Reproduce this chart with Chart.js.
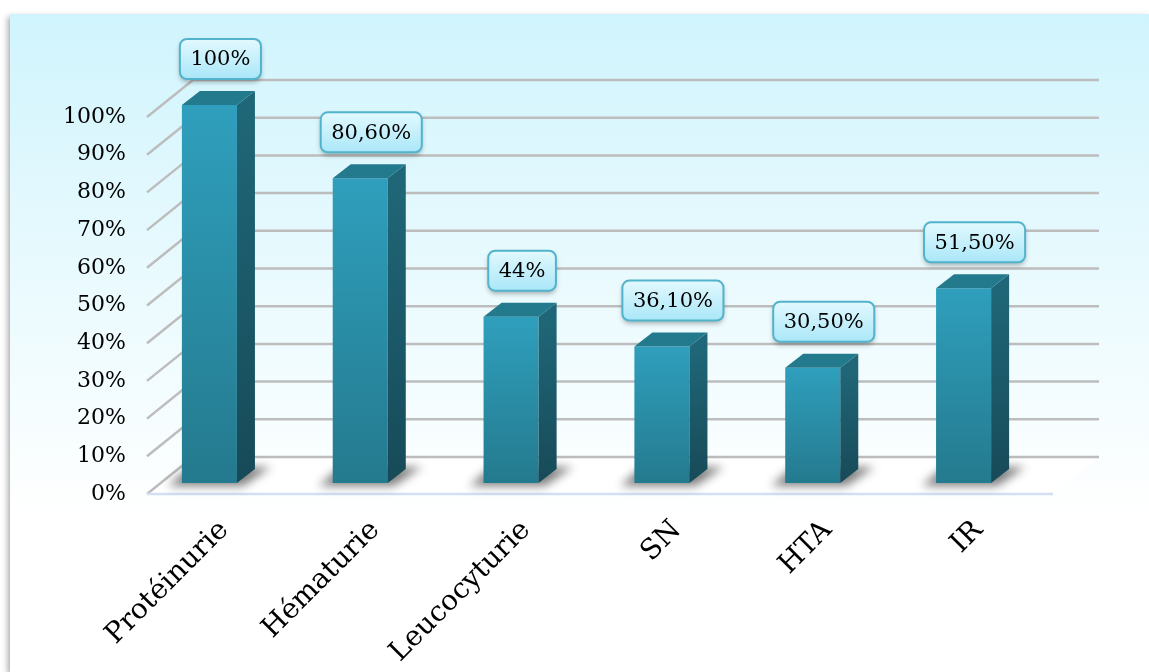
<!DOCTYPE html>
<html>
<head>
<meta charset="utf-8">
<script src="https://cdn.jsdelivr.net/npm/chart.js@4/dist/chart.umd.min.js"></script>
<style>
  html, body { margin: 0; padding: 0; background: #fff; }
  #wrap { width: 1149px; height: 672px; }
</style>
</head>
<body>
<div id="wrap"><canvas id="chart"></canvas></div>
<script>
// values
const categories = ['Protéinurie', 'Hématurie', 'Leucocyturie', 'SN', 'HTA', 'IR'];
const percents = [100, 80.6, 44, 36.1, 30.5, 51.5];
const valueLabels = ['100%', '80,60%', '44%', '36,10%', '30,50%', '51,50%'];
const tickValues = [0, 10, 20, 30, 40, 50, 60, 70, 80, 90, 100];

const SERIF = '"DejaVu Serif", serif';

// fake 3d: depth of the whole plot and of one bar
const wallDx = 46, wallDy = -37;
const barDx = 18, barDy = -14;

function barBoxes(chart) {
  return chart.getDatasetMeta(0).data.map(b => b.getProps(['x', 'y', 'base', 'width'], true));
}

const scene3d = {
  id: 'scene3d',
  beforeDraw(chart) {
    const c = chart.ctx;
    c.save();
    c.fillStyle = '#fff';
    c.fillRect(0, 0, chart.width, chart.height);
    const g = c.createLinearGradient(0, 14, 0, 520);
    g.addColorStop(0, '#d0f4fd');
    g.addColorStop(0.6, '#edfbfe');
    g.addColorStop(1, '#ffffff');
    c.shadowColor = 'rgba(0,0,0,0.35)';
    c.shadowBlur = 6;
    c.shadowOffsetX = -2;
    c.shadowOffsetY = 3;
    c.fillStyle = g;
    c.fillRect(10, 14, chart.width - 10, chart.height - 14);
    c.restore();
  },
  beforeDatasetsDraw(chart) {
    const c = chart.ctx;
    const a = chart.chartArea;
    const y = chart.scales.y;
    const x0 = a.left + 13, x1 = a.right + 14;
    const floorY = y.getPixelForValue(0);
    c.save();
    // floor
    c.fillStyle = '#ffffff';
    c.beginPath();
    c.moveTo(x0, floorY);
    c.lineTo(x0 + wallDx, floorY + wallDy);
    c.lineTo(x1 + wallDx, floorY + wallDy);
    c.lineTo(x1, floorY);
    c.closePath();
    c.fill();
    // back wall lines + short side lines
    c.strokeStyle = '#bdbdbd';
    c.lineWidth = 2.5;
    tickValues.forEach(v => {
      const py = y.getPixelForValue(v);
      c.beginPath();
      c.moveTo(x0, py);
      c.lineTo(x0 + wallDx, py + wallDy);
      c.lineTo(x1 + wallDx, py + wallDy);
      c.stroke();
    });
    // front edge of the floor
    c.strokeStyle = '#d3e0f1';
    c.lineWidth = 2.5;
    c.beginPath();
    c.moveTo(x0, floorY);
    c.lineTo(x1, floorY);
    c.stroke();
    // soft shadows under the bars
    c.filter = 'blur(5px)';
    c.fillStyle = 'rgba(0,0,0,0.5)';
    barBoxes(chart).forEach(b => {
      const l = b.x - b.width / 2, r = b.x + b.width / 2;
      c.beginPath();
      c.moveTo(l - 14, b.base + 3);
      c.lineTo(r + 6, b.base + 3);
      c.lineTo(r + 34, b.base - 16);
      c.lineTo(l + 8, b.base - 16);
      c.closePath();
      c.fill();
    });
    c.restore();
  },
  afterDatasetsDraw(chart) {
    const c = chart.ctx;
    c.save();
    barBoxes(chart).forEach(b => {
      const l = b.x - b.width / 2, r = b.x + b.width / 2;
      // side face
      const gs = c.createLinearGradient(0, b.y, 0, b.base);
      gs.addColorStop(0, '#1f6778');
      gs.addColorStop(1, '#174a58');
      c.fillStyle = gs;
      c.beginPath();
      c.moveTo(r, b.y);
      c.lineTo(r + barDx, b.y + barDy);
      c.lineTo(r + barDx, b.base + barDy);
      c.lineTo(r, b.base);
      c.closePath();
      c.fill();
      // top face
      c.fillStyle = '#237a8d';
      c.beginPath();
      c.moveTo(l, b.y);
      c.lineTo(l + barDx, b.y + barDy);
      c.lineTo(r + barDx, b.y + barDy);
      c.lineTo(r, b.y);
      c.closePath();
      c.fill();
    });
    // value callouts
    c.font = '21px ' + SERIF;
    c.textAlign = 'center';
    c.textBaseline = 'middle';
    barBoxes(chart).forEach((b, i) => {
      const txt = valueLabels[i];
      const w = c.measureText(txt).width + 21, h = 40;
      const cx = b.x + 11, bottom = b.y - 26;
      const bx = cx - w / 2, by = bottom - h;
      const g = c.createLinearGradient(0, by, 0, bottom);
      g.addColorStop(0, '#e2f9fe');
      g.addColorStop(1, '#aae7f9');
      c.save();
      c.shadowColor = 'rgba(0,0,0,0.3)';
      c.shadowBlur = 5;
      c.shadowOffsetY = 3;
      c.fillStyle = g;
      c.beginPath();
      c.roundRect(bx, by, w, h, 7);
      c.fill();
      c.restore();
      c.strokeStyle = '#52b3cc';
      c.lineWidth = 2;
      c.beginPath();
      c.roundRect(bx, by, w, h, 7);
      c.stroke();
      c.fillStyle = '#000';
      c.fillText(txt, cx, by + h / 2 + 1);
    });
    c.restore();
  }
};

new Chart(document.getElementById('chart'), {
  type: 'bar',
  data: {
    labels: categories,
    datasets: [{
      data: percents,
      yAxisID: 'yBar',
      clip: false,
      barPercentage: 0.365,
      categoryPercentage: 1,
      borderWidth: 0,
      backgroundColor: ctx => {
        const chart = ctx.chart;
        if (!chart.chartArea) return '#2a8fab';
        const s = chart.scales.yBar;
        const g = chart.ctx.createLinearGradient(0, s.getPixelForValue(ctx.raw), 0, s.getPixelForValue(0));
        g.addColorStop(0, '#2f9fbd');
        g.addColorStop(1, '#247a8e');
        return g;
      }
    }]
  },
  options: {
    responsive: true,
    maintainAspectRatio: false,
    animation: false,
    devicePixelRatio: 1,
    layout: { padding: { top: 117, right: 110, left: 0, bottom: 0 } },
    plugins: { legend: { display: false }, tooltip: { enabled: false } },
    scales: {
      x: {
        grid: { display: false, drawTicks: false },
        border: { display: false },
        ticks: {
          minRotation: 45,
          maxRotation: 45,
          labelOffset: 15,
          padding: 20,
          color: '#000',
          font: { family: SERIF, size: 28 }
        },
        afterFit: s => { s.height = 178; }
      },
      y: {
        min: 0,
        max: 100,
        grid: { display: false, drawTicks: false },
        border: { display: false },
        afterBuildTicks: s => { s.ticks = tickValues.map(v => ({ value: v })); },
        ticks: {
          padding: 8,
          color: '#000',
          font: { family: SERIF, size: 22 },
          callback: v => v + '%'
        },
        afterFit: s => { s.width = 134; }
      },
      // bars sit a little behind the front plane
      yBar: {
        display: false,
        min: -2.91,
        max: 96.83
      }
    }
  },
  plugins: [scene3d]
});
</script>
</body>
</html>
